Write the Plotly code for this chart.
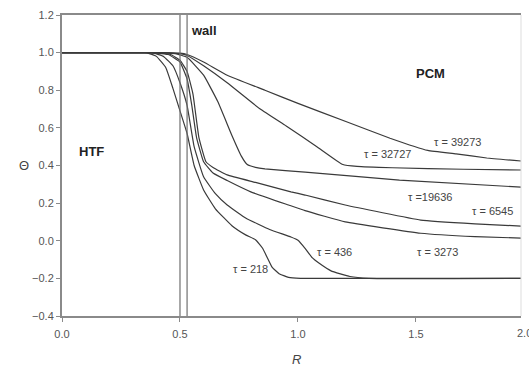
import plotly.graph_objects as go

# Dimensionless temperature profiles Θ(R) at several dimensionless times τ
tau_labels = ["τ = 218", "τ = 436", "τ = 3273", "τ = 6545", "τ =19636", "τ = 32727", "τ = 39273"]

r_218 = [0, 0.30, 0.35, 0.37, 0.40, 0.44, 0.47, 0.50, 0.53, 0.56, 0.60, 0.65, 0.72, 0.78, 0.82, 0.85, 0.87, 0.89, 0.92, 0.96, 1.01, 1.945]
t_218 = [1.0, 1.0, 1.0, 0.995, 0.98, 0.92, 0.81, 0.69, 0.57, 0.40, 0.27, 0.17, 0.08, 0.03, 0.005, -0.04, -0.09, -0.14, -0.175, -0.195, -0.2, -0.2]

r_436 = [0, 0.32, 0.37, 0.39, 0.43, 0.47, 0.50, 0.53, 0.56, 0.60, 0.65, 0.70, 0.78, 0.88, 0.97, 1.00, 1.03, 1.06, 1.09, 1.14, 1.22, 1.30, 1.945]
t_436 = [1.0, 1.0, 1.0, 0.997, 0.98, 0.93, 0.84, 0.72, 0.50, 0.34, 0.25, 0.19, 0.12, 0.06, 0.02, 0.003, -0.04, -0.09, -0.12, -0.16, -0.19, -0.2, -0.2]

r_3273 = [0, 0.33, 0.38, 0.40, 0.45, 0.50, 0.53, 0.55, 0.57, 0.60, 0.64, 0.70, 0.80, 0.96, 1.03, 1.20, 1.52, 1.75, 1.945]
t_3273 = [1.0, 1.0, 1.0, 0.998, 0.99, 0.95, 0.86, 0.72, 0.55, 0.42, 0.36, 0.32, 0.26, 0.19, 0.16, 0.10, 0.04, 0.022, 0.014]

r_6545 = [0, 0.34, 0.39, 0.41, 0.46, 0.50, 0.53, 0.555, 0.58, 0.61, 0.64, 0.70, 0.82, 0.97, 1.03, 1.20, 1.52, 1.75, 1.945]
t_6545 = [1.0, 1.0, 1.0, 0.998, 0.99, 0.96, 0.90, 0.78, 0.55, 0.42, 0.39, 0.35, 0.31, 0.26, 0.243, 0.19, 0.11, 0.09, 0.078]

r_19636 = [0, 0.36, 0.41, 0.43, 0.48, 0.53, 0.60, 0.66, 0.72, 0.76, 0.785, 0.82, 0.86, 1.03, 1.43, 1.945]
t_19636 = [1.0, 1.0, 1.0, 0.999, 0.995, 0.975, 0.88, 0.74, 0.56, 0.45, 0.405, 0.39, 0.382, 0.365, 0.322, 0.285]

r_32727 = [0, 0.38, 0.43, 0.45, 0.50, 0.53, 0.60, 0.70, 0.84, 0.95, 1.08, 1.19, 1.25, 1.40, 1.70, 1.945]
t_32727 = [1.0, 1.0, 1.0, 0.999, 0.995, 0.985, 0.93, 0.84, 0.70, 0.61, 0.50, 0.405, 0.395, 0.388, 0.38, 0.376]

r_39273 = [0, 0.38, 0.43, 0.45, 0.50, 0.53, 0.60, 0.70, 0.86, 1.00, 1.20, 1.39, 1.55, 1.67, 1.80, 1.945]
t_39273 = [1.0, 1.0, 1.0, 0.999, 0.997, 0.99, 0.95, 0.88, 0.80, 0.73, 0.635, 0.545, 0.48, 0.462, 0.44, 0.424]

profiles = [(r_218, t_218), (r_436, t_436), (r_3273, t_3273), (r_6545, t_6545),
            (r_19636, t_19636), (r_32727, t_32727), (r_39273, t_39273)]

# label anchor positions (R, Θ) for each τ
label_r = [0.80, 1.153, 1.593, 1.826, 1.56, 1.38, 1.678]
label_t = [-0.151, -0.06, -0.06, 0.157, 0.232, 0.46, 0.524]

# wall boundaries
wall_r = [0.5, 0.53]

x_ticks = [0.0, 0.5, 1.0, 1.5]
y_ticks = [-0.4, -0.2, 0.0, 0.2, 0.4, 0.6, 0.8, 1.0, 1.2]

FONT = "Liberation Sans Narrow, Liberation Sans, Arial, sans-serif"
AXIS_GREY = "#8a8a8a"
TEXT_GREY = "#555555"
CURVE = "#3a3a3a"

fig = go.Figure()
for r, t in profiles:
    fig.add_trace(go.Scatter(x=r, y=t, mode="lines",
                             line=dict(color=CURVE, width=1.2, shape="spline", smoothing=0.35),
                             hoverinfo="skip", showlegend=False))

for wr in wall_r:
    fig.add_shape(type="line", xref="x", yref="paper", x0=wr, x1=wr, y0=0, y1=1,
                  line=dict(color="#707070", width=1.2))

# faint right frame
fig.add_shape(type="line", xref="paper", yref="paper", x0=1, x1=1, y0=0, y1=1,
              line=dict(color="#dddddd", width=1))

for txt, lr, lt in zip(tau_labels, label_r, label_t):
    fig.add_annotation(x=lr, y=lt, text=txt, showarrow=False,
                       font=dict(family=FONT, size=11, color="#444444"))

bold = dict(family="Liberation Sans, Arial, sans-serif", size=13, color="#222222")
fig.add_annotation(x=0.54, y=1.12, text="<b>wall</b>", showarrow=False, xanchor="left", font=bold)
fig.add_annotation(x=1.56, y=0.89, text="<b>PCM</b>", showarrow=False, font=bold)
fig.add_annotation(x=0.127, y=0.477, text="<b>HTF</b>", showarrow=False, font=bold)

# axis titles
fig.add_annotation(xref="paper", yref="paper", x=-0.098, y=0.5, text="Θ", showarrow=False,
                   yanchor="middle", font=dict(family="Liberation Sans, Arial, sans-serif", size=13, color="#444444"))
fig.add_annotation(xref="paper", yref="paper", x=(296 - 62) / 459, y=-0.143, text="<i>R</i>",
                   showarrow=False, yanchor="middle",
                   font=dict(family="Liberation Sans, Arial, sans-serif", size=13, color="#444444"))
# last x tick label sits just beyond the plotted range
fig.add_annotation(xref="paper", yref="paper", x=(534 - 62) / 459, y=-0.056, text="2.0",
                   showarrow=False, yanchor="middle", font=dict(family=FONT, size=11, color=TEXT_GREY))

fig.update_xaxes(range=[0, 1.945], tickvals=x_ticks, tickformat=".1f",
                 showline=True, linecolor=AXIS_GREY, linewidth=2, mirror=True,
                 ticks="outside", ticklen=4, tickcolor=AXIS_GREY, ticklabelstandoff=3,
                 showgrid=False, zeroline=False,
                 tickfont=dict(family=FONT, size=11, color=TEXT_GREY))
fig.update_yaxes(range=[-0.4, 1.2], tickvals=y_ticks, tickformat=".1f",
                 showline=True, linecolor=AXIS_GREY, linewidth=2,
                 ticks="outside", ticklen=4, tickcolor=AXIS_GREY,
                 showgrid=False, zeroline=False,
                 tickfont=dict(family=FONT, size=11, color=TEXT_GREY))

fig.update_layout(width=529, height=369, margin=dict(l=62, r=8, t=15, b=53),
                  paper_bgcolor="white", plot_bgcolor="white")

fig.write_html("out.html")
